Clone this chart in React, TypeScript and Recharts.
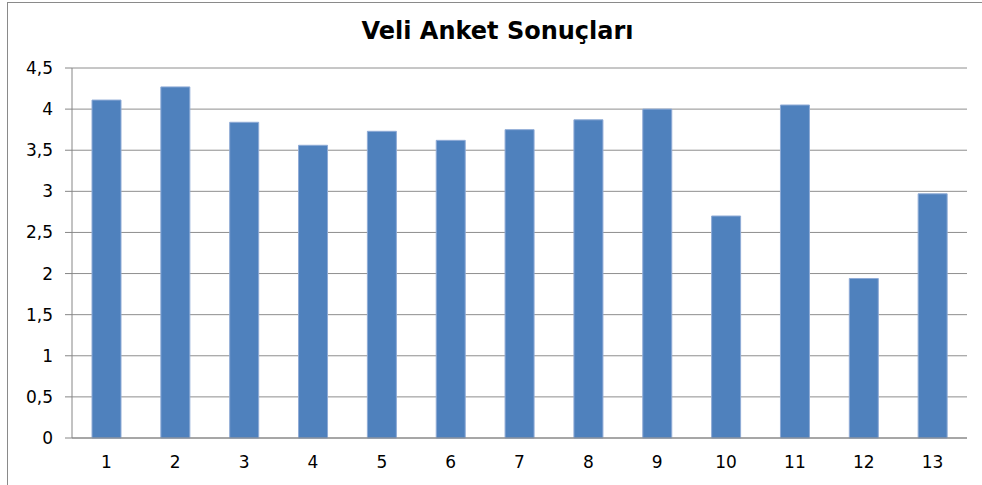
import React from 'react';
import { BarChart, Bar, XAxis, YAxis, CartesianGrid } from 'recharts';

const categories = ['1', '2', '3', '4', '5', '6', '7', '8', '9', '10', '11', '12', '13'];
const scores = [4.11, 4.27, 3.84, 3.56, 3.73, 3.62, 3.75, 3.87, 4.0, 2.7, 4.05, 1.94, 2.97];
const yTicks = [0, 0.5, 1, 1.5, 2, 2.5, 3, 3.5, 4, 4.5];
const edgeTicks = [0, 1, 2, 3, 4, 5, 6, 7, 8, 9, 10, 11, 12, 13];
const title = 'Veli Anket Sonuçları';

const data = categories.map((name, i) => ({ name, score: scores[i] }));

const axisGray = '#868686';
const font = 'DejaVu Sans, Verdana, sans-serif';

export default function App() {
  return (
    <div
      style={{
        position: 'absolute',
        left: 0,
        top: 0,
        width: 982,
        height: 485,
        overflow: 'hidden',
        background: '#fff',
      }}
    >
      <div
        style={{
          position: 'absolute',
          left: 7,
          top: 2,
          width: 1000,
          height: 600,
          borderLeft: '1px solid #8a8a8a',
          borderTop: '1px solid #8a8a8a',
        }}
      />
      <svg width={982} height={60} style={{ position: 'absolute', left: 0, top: 0 }}>
        <text
          x={497.5}
          y={39}
          textAnchor="middle"
          fontFamily={font}
          fontWeight="bold"
          fontSize={24}
          fill="#000"
        >
          {title}
        </text>
      </svg>
      <div style={{ position: 'absolute', left: 0, top: 0 }}>
        <BarChart
          width={982}
          height={485}
          data={data}
          margin={{ top: 68, right: 15, left: 0, bottom: 0 }}
        >
          <CartesianGrid vertical={false} stroke="#8e8e8e" />
          <XAxis
            xAxisId="edges"
            type="number"
            domain={[0, 13]}
            ticks={edgeTicks}
            allowDataOverflow
            height={0}
            tick={false}
            axisLine={false}
            tickLine={{ stroke: axisGray }}
            tickSize={5}
          />
          <XAxis
            dataKey="name"
            height={47}
            axisLine={{ stroke: axisGray }}
            tickLine={false}
            tickSize={5}
            tickMargin={13}
            tick={{ fill: '#000', fontSize: 17, fontFamily: font }}
            interval={0}
          />
          <YAxis
            width={72}
            domain={[0, 4.5]}
            ticks={yTicks}
            interval={0}
            axisLine={{ stroke: axisGray }}
            tickLine={{ stroke: axisGray }}
            tickSize={7}
            tickMargin={12}
            tick={{ fill: '#000', fontSize: 17, fontFamily: font }}
            tickFormatter={(v: number) => String(v).replace('.', ',')}
          />
          <Bar
            dataKey="score"
            fill="#4F81BD"
            stroke="#8fabd6"
            strokeWidth={1}
            barSize={29}
            isAnimationActive={false}
          />
        </BarChart>
      </div>
    </div>
  );
}
